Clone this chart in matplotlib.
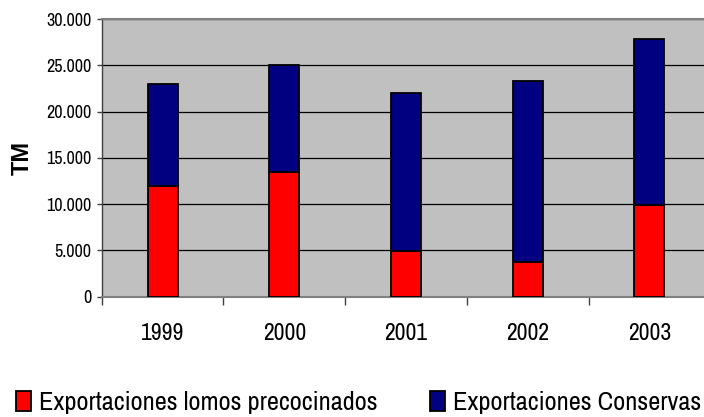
import numpy as np
import matplotlib.pyplot as plt
from matplotlib.patches import Patch

years = ["1999", "2000", "2001", "2002", "2003"]
lomos = [12000, 13500, 4900, 3800, 9900]
conservas = [11000, 11500, 17100, 19500, 17900]
yticks = [0, 5000, 10000, 15000, 20000, 25000, 30000]
ytick_labels = ["0", "5.000", "10.000", "15.000", "20.000", "25.000", "30.000"]

plt.rcParams['font.family'] = ['Archivo Narrow', 'Liberation Sans', 'DejaVu Sans']

fig = plt.figure(figsize=(7.04, 4.17), dpi=100)
ax = fig.add_axes([101.7 / 704, 1 - 296.7 / 417, 1 - 101.7 / 704, (296.7 - 19) / 417])
ax.set_facecolor("#c0c0c0")

x = np.arange(len(years))
w = 0.2465
ax.bar(x, lomos, w, color="#ff0000", edgecolor="black", linewidth=1.3, zorder=3,
       label="Exportaciones lomos precocinados")
ax.bar(x, conservas, w, bottom=lomos, color="#000080", edgecolor="black", linewidth=1.3,
       zorder=3, label="Exportaciones Conservas")

ax.set_ylim(0, 30000)
ax.set_xlim(-0.5, -0.5 + 602.3 / 121.7)
ax.set_yticks(yticks)
ax.set_yticklabels(ytick_labels, fontsize=13)
ax.yaxis.grid(True, color="black", linewidth=0.9, zorder=1)
ax.set_axisbelow(True)

ax.set_xticks(x)
ax.set_xticklabels(years, fontsize=17)
ax.set_xticks(np.arange(len(years)) - 0.5, minor=True)
ax.tick_params(axis="x", which="major", length=0, pad=19)
ax.tick_params(axis="x", which="minor", length=5.5, width=1, color="#404040")
ax.tick_params(axis="y", length=3.6, width=1, color="#404040", pad=4)

for s in ["top", "left", "bottom"]:
    ax.spines[s].set_color("#808080")
    ax.spines[s].set_linewidth(1.5)
ax.spines["right"].set_visible(False)
ax.spines["left"].set_color("#404040")
ax.spines["left"].set_linewidth(1)

fig.text(22.5 / 704, 1 - 158 / 417, "TM", rotation=90, ha="center", va="center",
         fontsize=17, fontweight="bold", family="Liberation Sans")

handles = [Patch(facecolor="#ff0000", edgecolor="black", linewidth=1.3),
           Patch(facecolor="#000080", edgecolor="black", linewidth=1.3)]
fig.legend(handles, ["Exportaciones lomos precocinados", "Exportaciones Conservas"],
           ncol=2, frameon=False, fontsize=19, loc="lower left",
           bbox_to_anchor=(13 / 704, 0.0), borderpad=0.1, borderaxespad=0,
           handlelength=0.57, handleheight=0.76, handletextpad=0.3, columnspacing=2.0)

fig.savefig("out.png", dpi=100)
